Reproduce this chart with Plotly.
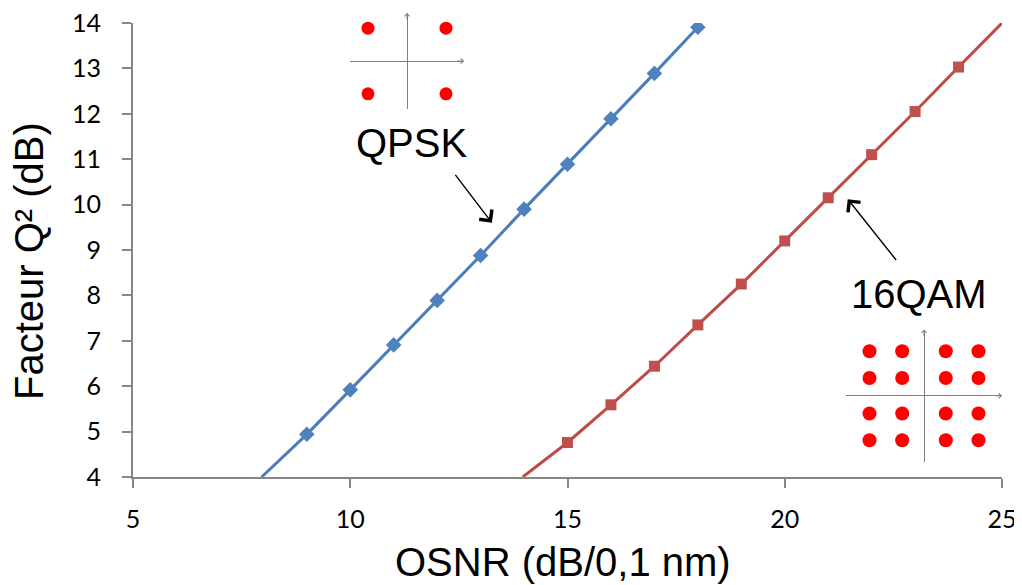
import plotly.graph_objects as go

# ---------------- data ----------------
osnr_qpsk = [9, 10, 11, 12, 13, 14, 15, 16, 17, 18]
q2_qpsk = [4.94, 5.92, 6.91, 7.89, 8.88, 9.90, 10.89, 11.89, 12.89, 13.905]
qpsk_line_start_x = [7.96]
qpsk_line_start_y = [4.0]

osnr_16qam = [15, 16, 17, 18, 19, 20, 21, 22, 23, 24]
q2_16qam = [4.76, 5.59, 6.44, 7.35, 8.25, 9.20, 10.15, 11.10, 12.05, 13.03]
qam_line_start_x = [13.97]
qam_line_start_y = [4.0]
qam_line_end_x = [25.0]
qam_line_end_y = [14.0]

x_ticks = [5, 10, 15, 20, 25]
y_ticks = [4, 5, 6, 7, 8, 9, 10, 11, 12, 13, 14]

qpsk_i = [-1, 1, -1, 1]
qpsk_q = [1, 1, -1, -1]
qam_levels = [-2.5, -1, 1, 2.5]
qam_i = [i for q in qam_levels for i in qam_levels]
qam_q = [q for q in qam_levels for i in qam_levels]

# ---------------- geometry helpers ----------------
# the page body has an 8px margin, so the figure starts at (8, 8) in the window
OFF = 8
W, H = 1022 - OFF, 585 - OFF
ML, MR, MT, MB = 125, 12, 5, 108
PW = W - ML - MR
PH = H - MT - MB


def px_x(p):
    """window pixel x -> paper fraction"""
    return (p - OFF - ML) / PW


def px_y(p):
    """window pixel y -> paper fraction"""
    return (H - MB - (p - OFF)) / PH


BLUE_L = "#4A7EBB"
BLUE_M = "#4F81BD"
RED_L = "#BE4B48"
RED_M = "#C0504D"
GREY = "#868686"
ARIAL = "Liberation Sans, Arial, sans-serif"

fig = go.Figure()

# QPSK curve
fig.add_trace(go.Scatter(
    x=qpsk_line_start_x + osnr_qpsk, y=qpsk_line_start_y + q2_qpsk,
    mode="lines", line=dict(color=BLUE_L, width=3), showlegend=False,
    hoverinfo="skip"))
fig.add_trace(go.Scatter(
    x=osnr_qpsk, y=q2_qpsk, mode="markers",
    marker=dict(symbol="diamond", size=12, color=BLUE_M), showlegend=False,
    name="QPSK"))

# 16QAM curve
fig.add_trace(go.Scatter(
    x=qam_line_start_x + osnr_16qam + qam_line_end_x,
    y=qam_line_start_y + q2_16qam + qam_line_end_y,
    mode="lines", line=dict(color=RED_L, width=3), showlegend=False,
    hoverinfo="skip"))
fig.add_trace(go.Scatter(
    x=osnr_16qam, y=q2_16qam, mode="markers",
    marker=dict(symbol="square", size=11, color=RED_M), showlegend=False,
    name="16QAM"))

# constellations on inset axes
fig.add_trace(go.Scatter(
    x=qpsk_i, y=qpsk_q, xaxis="x2", yaxis="y2", mode="markers",
    marker=dict(size=13, color="#FF0000"), showlegend=False))
fig.add_trace(go.Scatter(
    x=qam_i, y=qam_q, xaxis="x3", yaxis="y3", mode="markers",
    marker=dict(size=14, color="#FF0000"), showlegend=False))

tick_font = dict(family="Lato", size=25, color="#000000")

qpsk_xr = 57 / 39
qpsk_yr = 48 / 32.8
qam_xr = 78 / 21.8
qam_yr = 66.25 / 17.8

inset_axis = dict(showgrid=False, showticklabels=False, ticks="",
                  zeroline=True, zerolinecolor="#808080", zerolinewidth=1,
                  showline=False, fixedrange=True, automargin=False)

fig.update_layout(
    template="none",
    width=W, height=H, autosize=False,
    margin=dict(l=ML, r=MR, t=MT, b=MB, pad=0),
    plot_bgcolor="white", paper_bgcolor="white",
    font=dict(family=ARIAL, color="#000000"),
    xaxis=dict(domain=[0, px_x(1002)], range=[5, 25], tickvals=x_ticks,
               ticks="outside", ticklen=9, tickwidth=2, tickcolor=GREY,
               showline=True, linecolor=GREY, linewidth=2,
               showgrid=False, zeroline=False, tickfont=tick_font,
               ticklabelstandoff=10, automargin=False,
               ticklabeloverflow="allow"),
    yaxis=dict(domain=[0, px_y(23)], range=[4, 14], tickvals=y_ticks,
               ticks="outside", ticklen=9, tickwidth=2, tickcolor=GREY,
               showline=True, linecolor=GREY, linewidth=2,
               showgrid=False, zeroline=False, tickfont=tick_font,
               ticklabelstandoff=16, automargin=False,
               ticklabeloverflow="allow"),
    xaxis2=dict(inset_axis, domain=[px_x(350), px_x(464)],
                range=[-qpsk_xr, qpsk_xr], anchor="y2"),
    yaxis2=dict(inset_axis, domain=[px_y(109), px_y(13)],
                range=[-qpsk_yr, qpsk_yr], anchor="x2"),
    xaxis3=dict(inset_axis, domain=[px_x(846), px_x(1002)],
                range=[-qam_xr, qam_xr], anchor="y3"),
    yaxis3=dict(inset_axis, domain=[px_y(462), px_y(329.5)],
                range=[-qam_yr, qam_yr], anchor="x3"),
)

annotations = [
    # axis titles
    dict(text="OSNR (dB/0,1 nm)", x=px_x(562.5), y=px_y(562),
         xref="paper", yref="paper", showarrow=False,
         xanchor="center", yanchor="middle", font=dict(size=40, family=ARIAL)),
    dict(text="Facteur Q² (dB)", x=px_x(29), y=px_y(261),
         xref="paper", yref="paper", showarrow=False, textangle=-90,
         xanchor="center", yanchor="middle", font=dict(size=40, family=ARIAL)),
    # labels
    dict(text="QPSK", x=px_x(411.7), y=px_y(143), xref="paper", yref="paper",
         showarrow=False, xanchor="center", yanchor="middle",
         font=dict(size=40, family=ARIAL)),
    dict(text="16QAM", x=px_x(918.5), y=px_y(293.5), xref="paper", yref="paper",
         showarrow=False, xanchor="center", yanchor="middle",
         font=dict(size=40, family=ARIAL)),
    # pointer arrows
    dict(text="", x=13.26, y=9.60, xref="x", yref="y", showarrow=True,
         ax=-37.7, ay=-49.4, arrowhead=4, arrowsize=2.2, arrowwidth=1.4,
         arrowcolor="#000000"),
    dict(text="", x=21.45, y=10.12, xref="x", yref="y", showarrow=True,
         ax=49.6, ay=62.4, arrowhead=4, arrowsize=2.2, arrowwidth=1.4,
         arrowcolor="#000000"),
    # small arrowheads on constellation axes
    dict(text="", x=qpsk_xr, y=0, xref="x2", yref="y2", showarrow=True,
         ax=-8, ay=0, arrowhead=4, arrowsize=1, arrowwidth=1,
         arrowcolor="#808080"),
    dict(text="", x=0, y=qpsk_yr, xref="x2", yref="y2", showarrow=True,
         ax=0, ay=8, arrowhead=4, arrowsize=1, arrowwidth=1,
         arrowcolor="#808080"),
    dict(text="", x=qam_xr, y=0, xref="x3", yref="y3", showarrow=True,
         ax=-8, ay=0, arrowhead=4, arrowsize=1, arrowwidth=1,
         arrowcolor="#808080"),
    dict(text="", x=0, y=qam_yr, xref="x3", yref="y3", showarrow=True,
         ax=0, ay=8, arrowhead=4, arrowsize=1, arrowwidth=1,
         arrowcolor="#808080"),
]
fig.update_layout(annotations=annotations)

fig.write_html("out.html")
